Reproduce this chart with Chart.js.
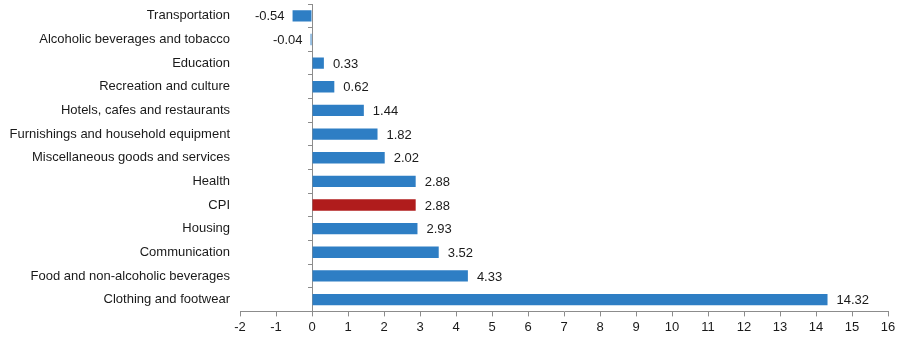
<!DOCTYPE html>
<html>
<head>
<meta charset="utf-8">
<script src="https://cdn.jsdelivr.net/npm/chart.js@4"></script>
<style>
  html, body { margin: 0; padding: 0; background: #fff; }
  #wrap { width: 902px; height: 340px; }
</style>
</head>
<body>
<div id="wrap"><canvas id="myChart"></canvas></div>
<script>
var categories = [
  "Transportation",
  "Alcoholic beverages and tobacco",
  "Education",
  "Recreation and culture",
  "Hotels, cafes and restaurants",
  "Furnishings and household equipment",
  "Miscellaneous goods and services",
  "Health",
  "CPI",
  "Housing",
  "Communication",
  "Food and non-alcoholic beverages",
  "Clothing and footwear"
];
var values = [-0.54, -0.04, 0.33, 0.62, 1.44, 1.82, 2.02, 2.88, 2.88, 2.93, 3.52, 4.33, 14.32];
var highlight = "CPI";

var blue = "#2e7ec4";
var red = "#b01c1c";
var axisColor = "#8c8c8c";
var fontFamily = "'Liberation Sans', Arial, sans-serif";

// value labels next to the end of each bar
var valueLabels = {
  id: "valueLabels",
  afterDatasetsDraw: function (chart) {
    var ctx = chart.ctx;
    var meta = chart.getDatasetMeta(0);
    ctx.save();
    ctx.font = "13px " + fontFamily;
    ctx.fillStyle = "#1a1a1a";
    ctx.textBaseline = "middle";
    meta.data.forEach(function (bar, i) {
      var v = values[i];
      var txt = v.toFixed(2);
      if (v < 0) {
        ctx.textAlign = "right";
        ctx.fillText(txt, Math.min(bar.x, bar.base) - 8, bar.y + 1);
      } else {
        ctx.textAlign = "left";
        ctx.fillText(txt, bar.x + 9, bar.y + 1);
      }
    });
    ctx.restore();
  }
};

var ctx = document.getElementById("myChart").getContext("2d");
var chart = new Chart(ctx, {
  type: "bar",
  data: {
    labels: categories,
    datasets: [
      {
        data: values,
        backgroundColor: categories.map(function (c) { return c === highlight ? red : blue; }),
        borderWidth: 0,
        barPercentage: 0.48,
        categoryPercentage: 1.0
      }
    ]
  },
  options: {
    indexAxis: "y",
    responsive: true,
    maintainAspectRatio: false,
    animation: false,
    layout: { padding: { left: 0, right: 14, top: 4, bottom: 2 } },
    plugins: {
      legend: { display: false },
      tooltip: { enabled: false }
    },
    scales: {
      x: {
        min: -2,
        max: 16,
        ticks: {
          stepSize: 1,
          color: "#1a1a1a",
          font: { family: fontFamily, size: 13 },
          padding: 3,
          maxRotation: 0
        },
        grid: { drawOnChartArea: false, tickLength: 5, color: axisColor },
        border: { display: true, color: axisColor }
      },
      y: {
        afterFit: function (scale) {
          scale.width = 240;
          scale.paddingTop = 0;
          scale.paddingBottom = 0;
        },
        ticks: {
          color: "#1a1a1a",
          font: { family: fontFamily, size: 13 },
          padding: 10
        },
        grid: { display: false, drawTicks: false },
        border: { display: false }
      },
      y2: {
        type: "category",
        labels: categories,
        position: { x: 0 },
        afterFit: function (scale) {
          scale.paddingTop = 0;
          scale.paddingBottom = 0;
        },
        ticks: { display: false },
        grid: { drawOnChartArea: false, offset: true, tickLength: 4, color: axisColor },
        border: { display: true, color: axisColor }
      }
    }
  },
  plugins: [valueLabels]
});
</script>
</body>
</html>
